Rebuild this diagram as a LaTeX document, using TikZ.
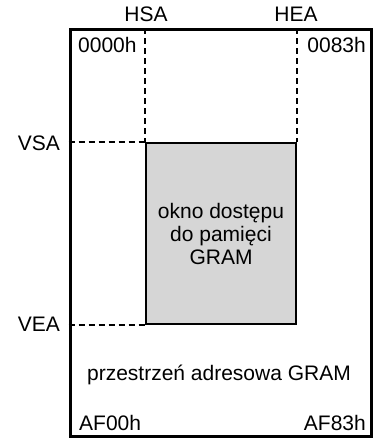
\documentclass[tikz,border=0pt]{standalone}
\usepackage{fontspec}
\setmainfont{Liberation Sans}
\usetikzlibrary{positioning}
\definecolor{winfill}{HTML}{D6D6D6}
\tikzset{
  guide/.style={line width=1.4pt, dash pattern=on 6pt off 4pt},
  lbl/.style={inner sep=0pt}
}
\begin{document}
\begin{tikzpicture}[x=1pt,y=-1pt,font=\fontsize{21}{23}\selectfont]
  \useasboundingbox (0,0) rectangle (376,438);
  % address space and access window
  \node[draw, line width=3pt, inner sep=0pt, minimum width=301pt, minimum height=406pt] (gram) at (220.5,233) {};
  \node[draw, fill=winfill, line width=2pt, inner sep=0pt, minimum width=150pt, minimum height=181pt] (window) at (221,233.5) {};
  % guide lines
  \coordinate (hsa) at (window.north west |- gram.north);
  \coordinate (hea) at (window.north east |- gram.north);
  \coordinate (vsa) at (window.north west -| gram.west);
  \coordinate (vea) at (window.south west -| gram.west);
  \draw[guide] (hsa) -- (window.north west);
  \draw[guide] (hea) -- (window.north east);
  \draw[guide] (vsa) -- (window.north west);
  \draw[guide] (vea) -- (window.south west);
  % labels
  \node[lbl, anchor=base] (hsalbl) at (146,22) {HSA};
  \node[lbl, anchor=base] (healbl) at (296,22) {HEA};
  \node[lbl, anchor=base east] (vsalbl) at (60,150.5) {VSA};
  \node[lbl, anchor=base east] (vealbl) at (60,331) {VEA};
  \node[lbl, anchor=base west] (nw) at (78,53) {0000h};
  \node[lbl, anchor=base east] (ne) at (366,53) {0083h};
  \node[lbl, anchor=base west] (sw) at (79,430) {AF00h};
  \node[lbl, anchor=base east] (se) at (366,430) {AF83h};
  \node[lbl, anchor=base] (space) at (219,380) {przestrzeń adresowa GRAM};
  \node[lbl, align=center] (wintext) at (window.center) {okno dostępu\\do pamięci\\GRAM};
\end{tikzpicture}
\end{document}
